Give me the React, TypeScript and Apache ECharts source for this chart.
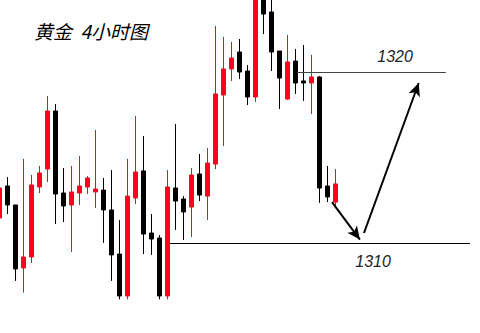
import React, { useEffect, useRef } from "react";
import * as echarts from "echarts";

// 4-hour gold candles: [open, close, low, high], one per 4-hour slot
const candles: number[][] = [
  [1311.46, 1313.21, 1311.46, 1313.21],
  [1313.33, 1312.22, 1311.69, 1313.85],
  [1312.22, 1308.48, 1307.78, 1312.22],
  [1308.54, 1309.18, 1307.1, 1314.91],
  [1309.18, 1313.39, 1308.83, 1313.97],
  [1313.27, 1314.09, 1312.92, 1314.5],
  [1314.32, 1317.71, 1313.56, 1318.59],
  [1317.71, 1312.86, 1311.11, 1318.12],
  [1312.92, 1312.16, 1311.22, 1314.38],
  [1312.22, 1312.98, 1309.47, 1314.5],
  [1312.92, 1313.33, 1312.22, 1315.08],
  [1313.27, 1313.8, 1312.86, 1313.91],
  [1312.98, 1313.15, 1312.04, 1316.6],
  [1313.09, 1311.93, 1310.0, 1313.8],
  [1311.93, 1309.3, 1307.78, 1314.26],
  [1309.35, 1306.9, 1306.7, 1311.34],
  [1306.9, 1312.74, 1306.7, 1314.91],
  [1312.63, 1314.15, 1312.28, 1317.42],
  [1314.21, 1310.52, 1309.35, 1316.25],
  [1310.58, 1310.23, 1309.3, 1311.69],
  [1310.29, 1306.9, 1306.7, 1310.46],
  [1306.9, 1313.27, 1306.7, 1314.26],
  [1313.21, 1312.45, 1310.76, 1316.95],
  [1312.57, 1311.81, 1310.17, 1312.74],
  [1312.1, 1313.97, 1310.35, 1314.38],
  [1314.03, 1312.8, 1312.45, 1315.2],
  [1312.74, 1314.67, 1311.34, 1315.55],
  [1314.61, 1318.71, 1314.32, 1322.68],
  [1318.65, 1320.17, 1315.67, 1322.04],
  [1320.17, 1320.81, 1319.47, 1321.75],
  [1321.16, 1319.99, 1319.58, 1321.92],
  [1320.05, 1318.53, 1318.06, 1320.4],
  [1318.53, 1324.6, 1318.24, 1324.8],
  [1324.6, 1323.38, 1322.21, 1324.8],
  [1323.5, 1321.16, 1320.05, 1324.5],
  [1321.22, 1319.64, 1317.83, 1321.22],
  [1318.41, 1320.58, 1318.36, 1322.15],
  [1320.63, 1319.35, 1318.71, 1321.34],
  [1319.47, 1319.35, 1318.3, 1321.57],
  [1319.35, 1319.7, 1317.54, 1320.99],
  [1319.7, 1313.21, 1312.34, 1319.76],
  [1313.33, 1312.69, 1312.39, 1314.5],
  [1312.39, 1313.45, 1312.04, 1314.32],
];

// visible slot window (the first candle sits half off the left edge)
const slotMin = 0.0625;
const slotMax = 60.0625;

// price levels: [value, fromSlot, toSlot]
const levels: number[][] = [
  [1320, 37.2, 55.8],
  [1310, 21.3, 58.8],
];
const levelLabels: string[] = ["1320", "1310"];
// label anchors: [slot, price]
const levelLabelPos: number[][] = [
  [49.45, 1320.87],
  [46.7, 1308.89],
];

// projected path: [fromSlot, fromPrice, toSlot, toPrice]
const arrows: number[][] = [
  [41.56, 1312.39, 45.05, 1310.2],
  [45.56, 1310.58, 52.4, 1319.35],
];

const UP = "#ff0022";
const DOWN = "#000000";

export default function App() {
  const ref = useRef<HTMLDivElement>(null);

  useEffect(() => {
    if (!ref.current) return;
    const chart = echarts.init(ref.current, null, { renderer: "svg" });

    const markLineData: any[] = [];
    levels.forEach(([v, a, b]) => {
      markLineData.push([
        { coord: [a, v], lineStyle: { color: v === 1320 ? "#444" : "#000", width: 1, type: "solid" }, symbol: "none" },
        { coord: [b, v], symbol: "none" },
      ]);
    });
    arrows.forEach(([x1, y1, x2, y2]) => {
      markLineData.push([
        { coord: [x1, y1], lineStyle: { color: "#000", width: 2, type: "solid" }, symbol: "none" },
        { coord: [x2, y2], symbol: "arrow", symbolSize: [9, 13] },
      ]);
    });

    chart.setOption({
      animation: false,
      backgroundColor: "#ffffff",
      title: {
        text: "黄金  4小时图",
        left: 34,
        top: 21,
        padding: 0,
        textStyle: {
          fontFamily: "Noto Sans CJK SC",
          fontStyle: "italic",
          fontWeight: "normal",
          fontSize: 19,
          color: "#000",
        },
      },
      grid: { left: 0, right: 0, top: 0, bottom: 43 },
      xAxis: { type: "value", min: slotMin, max: slotMax, show: false },
      yAxis: { type: "value", min: 1307.25, max: 1324.2, show: false, scale: true },
      series: [
        {
          type: "candlestick",
          data: candles.map((c, i) => [i, ...c]),
          encode: { x: 0, y: [1, 2, 3, 4] },
          barWidth: 5,
          clip: true,
          silent: true,
          itemStyle: {
            color: UP,
            color0: DOWN,
            borderColor: UP,
            borderColor0: DOWN,
            borderWidth: 1,
          },
          markLine: {
            silent: true,
            symbol: "none",
            label: { show: false },
            emphasis: { disabled: true },
            data: markLineData,
          },
          markPoint: {
            silent: true,
            symbol: "circle",
            symbolSize: 0,
            data: levelLabels.map((t, i) => ({
              coord: levelLabelPos[i],
              value: t,
              label: {
                show: true,
                position: "inside",
                formatter: t,
                fontFamily: "Liberation Sans",
                fontStyle: "italic",
                fontSize: 16,
                color: "#222",
              },
            })),
          },
        },
      ],
    });

    return () => chart.dispose();
  }, []);

  return (
    <div
      ref={ref}
      style={{ position: "fixed", left: 0, top: 0, width: 480, height: 333 }}
    />
  );
}
